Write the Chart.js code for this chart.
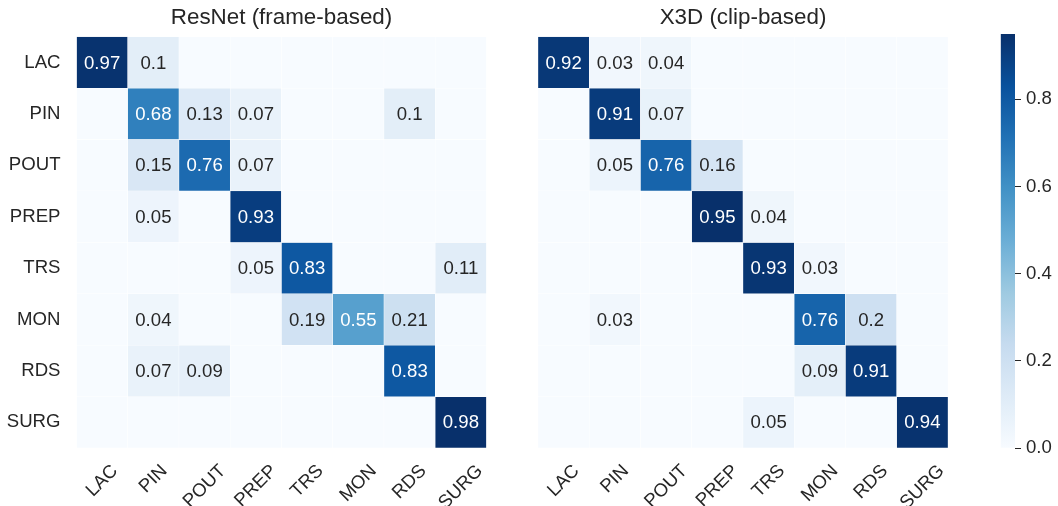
<!DOCTYPE html>
<html>
<head>
<meta charset="utf-8">
<script src="https://cdn.jsdelivr.net/npm/chart.js@4/dist/chart.umd.min.js"></script>
<style>
  body { margin: 0; background: #fff; width: 1058px; height: 506px; position: relative; overflow: hidden; }
  canvas { position: absolute; top: 0; }
</style>
</head>
<body>
<canvas id="resnetChart" width="500" height="506" style="left:0"></canvas>
<canvas id="x3dChart" width="460" height="506" style="left:500px"></canvas>
<canvas id="cbarChart" width="68" height="506" style="left:990px"></canvas>
<script>
// Clases (filas = verdad, columnas = predicción)
const rowLabels = ['LAC', 'PIN', 'POUT', 'PREP', 'TRS', 'MON', 'RDS', 'SURG'];
const colLabels = ['LAC', 'PIN', 'POUT', 'PREP', 'TRS', 'MON', 'RDS', 'SURG'];

// ResNet (frame-based)
const resnetLAC  = [0.97, 0.1,  0,    0,    0,    0,    0,    0];
const resnetPIN  = [0,    0.68, 0.13, 0.07, 0,    0,    0.1,  0];
const resnetPOUT = [0,    0.15, 0.76, 0.07, 0,    0,    0,    0];
const resnetPREP = [0,    0.05, 0,    0.93, 0,    0,    0,    0];
const resnetTRS  = [0,    0,    0,    0.05, 0.83, 0,    0,    0.11];
const resnetMON  = [0,    0.04, 0,    0,    0.19, 0.55, 0.21, 0];
const resnetRDS  = [0,    0.07, 0.09, 0,    0,    0,    0.83, 0];
const resnetSURG = [0,    0,    0,    0,    0,    0,    0,    0.98];

// X3D (clip-based)
const x3dLAC  = [0.92, 0.03, 0.04, 0,    0,    0,    0,    0];
const x3dPIN  = [0,    0.91, 0.07, 0,    0,    0,    0,    0];
const x3dPOUT = [0,    0.05, 0.76, 0.16, 0,    0,    0,    0];
const x3dPREP = [0,    0,    0,    0.95, 0.04, 0,    0,    0];
const x3dTRS  = [0,    0,    0,    0,    0.93, 0.03, 0,    0];
const x3dMON  = [0,    0.03, 0,    0,    0,    0.76, 0.2,  0];
const x3dRDS  = [0,    0,    0,    0,    0,    0.09, 0.91, 0];
const x3dSURG = [0,    0,    0,    0,    0.05, 0,    0,    0.94];

// Ticks de la barra de color
const cbarTicks = [0, 0.2, 0.4, 0.6, 0.8];

const resnetRows = [resnetLAC, resnetPIN, resnetPOUT, resnetPREP, resnetTRS, resnetMON, resnetRDS, resnetSURG];
const x3dRows = [x3dLAC, x3dPIN, x3dPOUT, x3dPREP, x3dTRS, x3dMON, x3dRDS, x3dSURG];

const FONT = "'Liberation Sans', Arial, sans-serif";
const TEXT = '#262626';
const FS = 18.6;

// Mapa de color "Blues" (ColorBrewer / matplotlib)
const bluesStops = [
    [247, 251, 255], [222, 235, 247], [198, 219, 239], [158, 202, 225],
    [107, 174, 214], [66, 146, 198], [33, 113, 181], [8, 81, 156], [8, 48, 107]
];

function bluesRgb(t) {
    t = Math.max(0, Math.min(1, t));
    const p = t * (bluesStops.length - 1);
    const i = Math.min(Math.floor(p), bluesStops.length - 2);
    const f = p - i;
    const a = bluesStops[i], b = bluesStops[i + 1];
    return a.map((c, k) => c + (b[k] - c) * f);
}

function rgbStr(c) {
    return `rgb(${Math.round(c[0])}, ${Math.round(c[1])}, ${Math.round(c[2])})`;
}

function luminance(c) {
    const lin = c.map(v => {
        v = v / 255;
        return v <= 0.03928 ? v / 12.92 : Math.pow((v + 0.055) / 1.055, 2.4);
    });
    return 0.2126 * lin[0] + 0.7152 * lin[1] + 0.0722 * lin[2];
}

// Anotaciones dentro de cada celda
const annotPlugin = {
    id: 'annot',
    afterDatasetsDraw(chart) {
        const ctx = chart.ctx;
        ctx.save();
        ctx.font = `${FS}px ${FONT}`;
        ctx.textAlign = 'center';
        ctx.textBaseline = 'middle';
        chart.data.datasets.forEach((ds, r) => {
            const meta = chart.getDatasetMeta(r);
            ds.values.forEach((v, j) => {
                if (v < 0.03) return;
                const bar = meta.data[j];
                const cy = (bar.y + bar.base) / 2;
                const lum = luminance(bluesRgb(v / ds.vmax));
                ctx.fillStyle = lum > 0.408 ? TEXT : '#ffffff';
                ctx.fillText(String(v), bar.x, cy + 1);
            });
        });
        ctx.restore();
    }
};

// Etiquetas del eje X rotadas 45° y centradas en la columna
const xLabelPlugin = {
    id: 'xlabels',
    afterDraw(chart) {
        const ctx = chart.ctx;
        const xs = chart.scales.x;
        const top = chart.chartArea.bottom + 13;
        ctx.save();
        ctx.font = `${FS}px ${FONT}`;
        ctx.fillStyle = TEXT;
        ctx.textAlign = 'center';
        ctx.textBaseline = 'middle';
        chart.data.labels.forEach((label, j) => {
            const w = ctx.measureText(label).width;
            const h = 20;
            const cx = xs.getPixelForValue(j);
            const cy = top + (w + h) * Math.SQRT1_2 / 2;
            ctx.save();
            ctx.translate(cx, cy);
            ctx.rotate(-Math.PI / 4);
            ctx.fillText(label, 0, 0);
            ctx.restore();
        });
        ctx.restore();
    }
};

function makeHeatmap(canvasId, title, rows, showY, yWidth, padLeft, padRight) {
    const vmax = Math.max(...rows.flat());
    const datasets = rows.map((vals, r) => ({
        label: rowLabels[r],
        values: vals,
        vmax: vmax,
        data: vals.map(() => [r, r + 1]),
        backgroundColor: vals.map(v => rgbStr(bluesRgb(v / vmax))),
        borderColor: '#ffffff',
        borderWidth: 0.5,
        borderSkipped: false,
        barPercentage: 1,
        categoryPercentage: 1,
        grouped: false
    }));

    return new Chart(document.getElementById(canvasId), {
        type: 'bar',
        data: { labels: colLabels, datasets: datasets },
        plugins: [annotPlugin, xLabelPlugin],
        options: {
            responsive: false,
            animation: false,
            events: [],
            layout: { padding: { left: padLeft, right: padRight, top: 0, bottom: 0 } },
            plugins: {
                legend: { display: false },
                tooltip: { enabled: false },
                title: {
                    display: true,
                    text: title,
                    fullSize: false,
                    color: TEXT,
                    font: { family: FONT, size: 22.4, weight: 'normal', lineHeight: 1.2 },
                    padding: { top: 4.2, bottom: 5.6 }
                }
            },
            scales: {
                x: {
                    type: 'category',
                    grid: { display: false },
                    border: { display: false },
                    ticks: { display: false },
                    afterFit: scale => { scale.height = 58; }
                },
                y: {
                    type: 'linear',
                    min: 0,
                    max: rowLabels.length,
                    reverse: true,
                    grid: { display: false },
                    border: { display: false },
                    afterBuildTicks: scale => {
                        scale.ticks = rowLabels.map((l, i) => ({ value: i + 0.5 }));
                    },
                    ticks: {
                        display: showY,
                        color: TEXT,
                        padding: 8,
                        font: { family: FONT, size: FS },
                        callback: (value, index) => rowLabels[index]
                    },
                    afterFit: scale => { scale.width = yWidth; }
                }
            }
        }
    });
}

makeHeatmap('resnetChart', 'ResNet (frame-based)', resnetRows, true, 76.5, 0, 13.5);
makeHeatmap('x3dChart', 'X3D (clip-based)', x3dRows, false, 0, 38, 12);

// Barra de color (escala del mapa X3D)
const cbarMax = Math.max(...x3dRows.flat());

new Chart(document.getElementById('cbarChart'), {
    type: 'bar',
    data: {
        labels: ['cbar'],
        datasets: [{
            data: [[0, cbarMax]],
            barPercentage: 1,
            categoryPercentage: 1,
            borderWidth: 0,
            backgroundColor: function(context) {
                const area = context.chart.chartArea;
                if (!area) return 'rgb(107, 174, 214)';
                const g = context.chart.ctx.createLinearGradient(0, area.bottom, 0, area.top);
                bluesStops.forEach((c, i) => g.addColorStop(i / (bluesStops.length - 1), rgbStr(c)));
                return g;
            }
        }]
    },
    options: {
        responsive: false,
        animation: false,
        events: [],
        layout: { padding: { left: 10.7, right: 0, top: 34, bottom: 58 } },
        plugins: { legend: { display: false }, tooltip: { enabled: false } },
        scales: {
            x: { display: false },
            y: {
                position: 'right',
                min: 0,
                max: cbarMax,
                grid: { display: true, drawOnChartArea: false, drawTicks: true, tickLength: 6, tickColor: TEXT, lineWidth: 1 },
                border: { display: false },
                afterBuildTicks: scale => {
                    scale.ticks = cbarTicks.map(v => ({ value: v }));
                },
                ticks: {
                    color: TEXT,
                    padding: 5,
                    font: { family: FONT, size: FS },
                    callback: value => Number(value).toFixed(1)
                },
                afterFit: scale => { scale.width = 43; }
            }
        }
    }
});
</script>
</body>
</html>
